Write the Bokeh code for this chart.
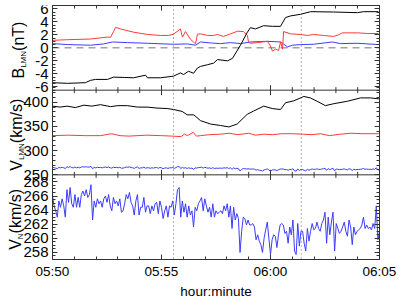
import math
import numpy as np
from bokeh.plotting import figure
from bokeh.models import Range1d, LinearAxis, FixedTicker, Span, Label, Title
from bokeh.embed import file_html
from bokeh.resources import INLINE

# ---------------- data (time in minutes after 05:50) ----------------
X_TICK_VALUES = [0, 5, 10, 15]
X_TICK_LABELS = ["05:50", "05:55", "06:00", "06:05"]
EVENT_TIMES = [5.55, 11.41]

B_TICKS = [-6, -4, -2, 0, 2, 4, 6]
V_TICKS = [250, 300, 350, 400]
VN_TICKS = [258, 260, 262, 264, 266, 268]

# B_L (black)
BL_T = [0, 0.69, 1.51, 1.74, 1.97, 2.52, 2.8, 3.3, 3.72, 4.27, 4.36, 4.95, 5.55, 5.87, 6.01,
        6.24, 6.47, 6.65, 6.79, 7.1, 7.39, 7.57, 8.03, 8.26, 8.62, 8.94, 9.08, 9.31, 9.68,
        10.09, 10.46, 10.69, 10.92, 11.38, 11.84, 12.89, 13.99, 14.27, 14.95]
BL = [-5.35, -5.45, -5.35, -5.0, -4.85, -4.85, -4.5, -4.55, -4.6, -4.2, -4.6, -4.6, -4.35, -3.85, -4.1,
      -3.6, -3.9, -3.1, -2.85, -2.6, -2.35, -1.8, -2.0, -1.6, 0.4, 2.4, 3.1, 2.9, 3.4,
      3.3, 3.3, 4.65, 4.9, 5.15, 5.55, 5.5, 5.4, 5.55, 5.55]
# B_M (red)
BM_T = [0, 0.69, 1.74, 2.52, 2.66, 2.80, 2.89, 3.12, 3.72, 4.36, 4.95, 5.32, 5.55, 5.87, 5.96,
        6.10, 6.33, 6.47, 6.56, 6.65, 6.79, 7.11, 7.39, 7.57, 7.84, 8.17, 8.49, 8.76, 8.94,
        8.99, 9.08, 9.40, 9.86, 9.98, 10.09, 10.23, 10.37, 10.46, 10.55, 10.60, 10.92, 11.38,
        11.70, 11.97, 12.43, 12.89, 13.12, 13.30, 13.99, 14.45, 14.95]
BM = [1.15, 1.25, 1.35, 1.65, 1.6, 2.5, 3.15, 2.9, 2.4, 2.05, 1.9, 1.9, 2.1, 2.9, 1.65,
      2.5, 1.3, 0.9, 0.6, 2.1, 2.15, 1.9, 1.9, 2.05, 1.75, 2.15, 2.55, 2.5, 1.9,
      0.9, 0.7, 0.8, 1.0, 0.4, -0.5, -0.2, -0.4, 0.9, -0.2, 2.5, 2.15, 2.05,
      1.9, 2.05, 1.9, 1.75, 2.0, 2.3, 2.3, 2.2, 2.2]
# B_N (blue)
BN_T = [0, 0.69, 1.74, 2.34, 2.75, 3.44, 4.36, 5.55, 6.19, 6.56, 6.79, 7.25, 7.71, 8.17, 8.62,
        9.08, 9.86, 10.46, 10.78, 11.01, 11.38, 11.97, 12.84, 13.21, 13.99, 14.95]
BN = [0.65, 0.5, 0.4, 0.6, 0.9, 0.8, 0.7, 0.55, 0.6, 0.4, 0.9, 0.75, 0.65, 0.8, 0.65,
      0.9, 1.0, 0.9, 0.15, 0.4, 0.5, 0.55, 0.9, 0.65, 0.7, 0.5]

# V_L (black)
VL_T = [0, 0.35, 0.67, 1.05, 1.44, 1.8, 2.2, 2.66, 3.0, 3.43, 3.9, 4.34, 4.8, 5.26, 5.56, 5.95,
        6.18, 6.48, 6.79, 7.25, 7.71, 8.09, 8.47, 8.93, 9.23, 9.69, 10.08, 10.46, 10.69, 11.07,
        11.53, 11.83, 12.14, 12.52, 12.90, 13.52, 14.13, 14.59, 14.97]
VL = [392, 390, 392, 389, 394, 392, 395, 391, 393, 393, 390, 390, 388, 387, 385, 381,
      374, 374, 362, 355, 352, 349, 355, 375, 382, 392, 387, 385, 399, 403,
      412, 409, 402, 393, 397, 402, 409, 409, 407]
# V_M (red)
VM_T = [0, 0.7, 1.5, 2.2, 2.7, 3.1, 3.5, 4.3, 5.0, 5.5, 5.9, 6.05, 6.2, 6.45, 6.6, 6.79, 7.2,
        7.7, 8.1, 8.5, 9.0, 9.3, 9.7, 10.1, 10.5, 11.0, 11.5, 11.9, 12.3, 12.7, 13.2, 13.7,
        14.2, 14.97]
VM = [331, 332, 331, 331, 335, 331, 330, 332, 331, 330, 329, 334, 331, 338, 330, 331, 333,
      334, 336, 333, 336, 332, 334, 333, 335, 335, 334, 333, 335, 331, 334, 336,
      335, 335]
# V_N (blue), uniform cadence over the interval
VN = [266.0, 264.6, 263.9, 263.0, 265.3, 264.4, 265.6, 264.6, 263.0, 266.9, 265.1, 267.2,
      264.9, 264.4, 266.2, 264.4, 265.8, 264.4, 266.2, 266.7, 266.0, 266.9, 265.8, 266.2,
      267.6, 262.6, 265.3, 264.4, 265.6, 264.9, 265.3, 264.4, 265.6, 266.0, 265.1, 266.2,
      264.6, 263.9, 265.8, 264.9, 265.3, 264.6, 265.6, 263.7, 263.9, 264.9, 266.2, 265.6,
      266.5, 265.1, 264.6, 263.3,
      265.3, 266.2, 263.3, 264.4, 264.4, 265.8, 263.7, 264.6, 264.6, 263.5, 264.6, 263.9,
      264.9, 265.1, 263.5, 265.3, 264.4, 262.8, 263.9, 264.6, 263.0, 264.6, 264.4, 265.3,
      263.3, 264.9, 266.9, 267.2, 263.0, 265.3, 263.7, 264.9, 263.0, 264.6, 263.3, 263.9,
      261.6, 264.4, 263.9, 264.9, 265.3, 265.8, 263.9, 265.6, 264.6, 263.7, 264.4, 263.0,
      264.9, 263.0, 263.9, 263.5,
      263.7, 263.9, 263.5, 264.6, 263.9, 264.9, 263.0, 264.6, 261.4, 264.4, 262.6, 263.5,
      262.8, 258.0, 261.0, 263.0, 262.8, 261.9, 262.6, 261.9, 261.9, 262.1, 261.6, 259.8,
      260.5, 259.6, 259.1, 258.0, 260.0, 261.2, 262.3, 260.0, 257.7, 259.8, 260.5, 260.3,
      258.7, 260.5, 261.9, 262.1, 261.9, 260.7, 261.0, 259.3, 261.6, 260.5, 262.6, 258.2,
      257.7, 262.1, 258.9, 261.0,
      261.0, 259.3, 258.2, 261.4, 259.6, 261.0, 262.1, 261.2, 261.4, 262.3, 261.4, 261.0,
      262.1, 262.6, 263.7, 259.3, 263.0, 260.5, 262.3, 263.7, 258.2, 262.1, 261.4, 260.7,
      261.0, 261.6, 262.3, 261.0, 260.3, 262.6, 261.6, 259.1, 261.6, 260.5, 261.0, 261.2,
      261.4, 261.9, 263.0, 261.4, 261.9, 261.4, 261.6, 261.2, 262.1, 261.4, 264.6, 259.8,
      261.0]
VN_T = np.linspace(0, 15, len(VN))

# ---------------- styling ----------------
FONT = "Liberation Sans"
BLACK = "#000000"
RED = "#ff3a3a"
BLUE = "#3c3cff"
AXIS_COLOR = "#333333"
PLOT_LEFT_PX = 52          # where 05:50 sits on the canvas
PLOT_W, FRAME_H = 327, 254
NPANEL = 3
T0, T1 = X_TICK_VALUES[0], X_TICK_VALUES[-1]
MIN_PER_PX = (T1 - T0) / PLOT_W

# panel value ranges; each panel gets one third of the frame (top to bottom)
B_LIM = (-6.5, 6.5)
V_LIM = (250.0, 425.0)
VN_LIM = (257.0, 269.0)


def panel_range(lim, slot):
    span = lim[1] - lim[0]
    below = NPANEL - 1 - slot
    return Range1d(lim[0] - below * span, lim[1] + slot * span)


RANGES = {"b": panel_range(B_LIM, 0), "v": panel_range(V_LIM, 1), "vn": panel_range(VN_LIM, 2)}


def to_frame(rng, v):
    return round((v - rng.start) / (rng.end - rng.start) * NPANEL, 6)


# frame starts at the canvas' left edge; the time axis starts PLOT_LEFT_PX further right
p = figure(frame_width=PLOT_LEFT_PX + PLOT_W, frame_height=FRAME_H,
           x_range=Range1d(T0 - PLOT_LEFT_PX * MIN_PER_PX, T1), y_range=Range1d(0, NPANEL),
           output_backend="svg", toolbar_location=None,
           min_border_left=0, min_border_right=20, min_border_top=5, min_border_bottom=37,
           x_axis_location=None, y_axis_location=None)
p.extra_y_ranges = RANGES
p.outline_line_color = None
p.background_fill_color = None
for g in p.grid:
    g.visible = False

# ---- y ticks on shared axis
major_pos, overrides, minor_pos = [], {}, []
for key, ticks, lim, mstep in (("b", B_TICKS, B_LIM, 0.5), ("v", V_TICKS, V_LIM, 10),
                               ("vn", VN_TICKS, VN_LIM, 0.5)):
    r = RANGES[key]
    for t in ticks:
        pos = to_frame(r, t)
        major_pos.append(pos)
        overrides[pos] = str(t)
    n = int(round((lim[1] - lim[0]) / mstep))
    for i in range(n + 1):
        minor_pos.append(to_frame(r, lim[0] + i * mstep))

yt = FixedTicker(ticks=major_pos, minor_ticks=minor_pos)
xt = FixedTicker(ticks=X_TICK_VALUES, minor_ticks=list(range(T0, T1 + 1)))


def style_axis(ax, labels, size="15px"):
    ax.major_tick_in = 5
    ax.major_tick_out = 0
    ax.minor_tick_in = 3
    ax.minor_tick_out = 0
    ax.axis_line_color = AXIS_COLOR
    ax.major_tick_line_color = AXIS_COLOR
    ax.minor_tick_line_color = AXIS_COLOR
    if labels:
        ax.major_label_text_font = FONT
        ax.major_label_text_font_size = size
        ax.major_label_text_color = "black"
    else:
        ax.major_label_text_font_size = "0px"
        ax.major_label_standoff = 0


left = LinearAxis(ticker=yt, major_label_overrides=overrides, fixed_location=T0)
style_axis(left, True, "15px")
left.major_label_standoff = 4
right = LinearAxis(ticker=yt)
style_axis(right, False)
above = LinearAxis(ticker=xt, bounds=(T0, T1))
style_axis(above, False)
below = LinearAxis(ticker=xt, bounds=(T0, T1),
                   major_label_overrides={v: l for v, l in zip(X_TICK_VALUES, X_TICK_LABELS)})
style_axis(below, True, "13.5px")
below.major_label_standoff = 4
p.add_layout(left, "left")
p.add_layout(right, "right")
p.add_layout(above, "above")
p.add_layout(below, "below")

# ---- rotated y titles with subscripts / x title (x given as the glyph centre line, in px)
CHAR_W = {"B": .667, "V": .667, "L": .556, "M": .833, "N": .722, " ": .278, "(": .333,
          ")": .333, "n": .556, "T": .611, "k": .5, "m": .833, "/": .278, "s": .5,
          "h": .556, "o": .556, "u": .556, "r": .333, ":": .278, "i": .222, "t": .278,
          "e": .556}


def text_len(t, size):
    return sum(CHAR_W.get(c, .556) for c in t) * size


# x-axis title, centred under the time axis (not under the whole frame)
XTITLE = "hour:minute"
p.add_layout(Title(text=XTITLE, align="left",
                   offset=PLOT_LEFT_PX + PLOT_W / 2 - text_len(XTITLE, 13.5) / 2,
                   text_font=FONT, text_font_size="13.5px", text_font_style="normal",
                   text_color="black", standoff=0), "below")

# ---- panel separators with their minute ticks
for sep in range(1, NPANEL):
    p.segment(x0=T0, y0=sep, x1=T1, y1=sep, line_color=AXIS_COLOR, line_width=1)
    p.scatter(list(range(T0, T1 + 1)), [sep] * (T1 - T0 + 1), marker="dash",
              angle=math.pi / 2, size=6, line_color=AXIS_COLOR)
    p.scatter(X_TICK_VALUES, [sep] * len(X_TICK_VALUES), marker="dash", angle=math.pi / 2,
              size=10, line_color=AXIS_COLOR)

# ---- event lines and zero line
for t in EVENT_TIMES:
    p.add_layout(Span(location=t, dimension="height", line_color="#666666",
                      line_dash="1 3", line_width=1))
p.segment(x0=T0, y0=0, x1=T1, y1=0, y_range_name="b", line_color="#777777",
          line_dash="7 5", line_width=1)

# ---- data
p.line(BN_T, BN, color=BLUE, line_width=1, y_range_name="b")
p.line(BM_T, BM, color=RED, line_width=1, y_range_name="b")
p.line(BL_T, BL, color=BLACK, line_width=1, y_range_name="b")
p.line(VN_T, VN, color=BLUE, line_width=1, y_range_name="v")
p.line(VM_T, VM, color=RED, line_width=1, y_range_name="v")
p.line(VL_T, VL, color=BLACK, line_width=1, y_range_name="v")
p.line(VN_T, VN, color=BLUE, line_width=1, y_range_name="vn")


def add_ytitle(key, lim, parts, mid_px):
    r = RANGES[key]
    unit_per_px = (r.end - r.start) / FRAME_H
    total = sum(text_len(t, s) for t, s, _ in parts)
    y = (lim[0] + lim[1]) / 2 - total / 2 * unit_per_px
    for t, s, dx in parts:
        p.add_layout(Label(x=T0 + (mid_px + dx - PLOT_LEFT_PX) * MIN_PER_PX, y=y,
                           y_range_name=key, text=t, angle=math.pi / 2, text_align="left",
                           text_baseline="middle", text_font=FONT,
                           text_font_size=f"{s}px", text_color="black"))
        y += text_len(t, s) * unit_per_px


add_ytitle("b", B_LIM, [("B", 16, 0), ("LMN", 8, 5), (" (nT)", 16, 0)], 18)
add_ytitle("v", V_LIM, [("V", 16, 0), ("LMN", 8, 5), (" (km/s)", 16, 0)], 16)
add_ytitle("vn", VN_LIM, [("V", 16, 0), ("N", 8, 5), (" (km/s)", 16, 0)], 15)

open("out.html", "w").write(file_html(p, INLINE))
